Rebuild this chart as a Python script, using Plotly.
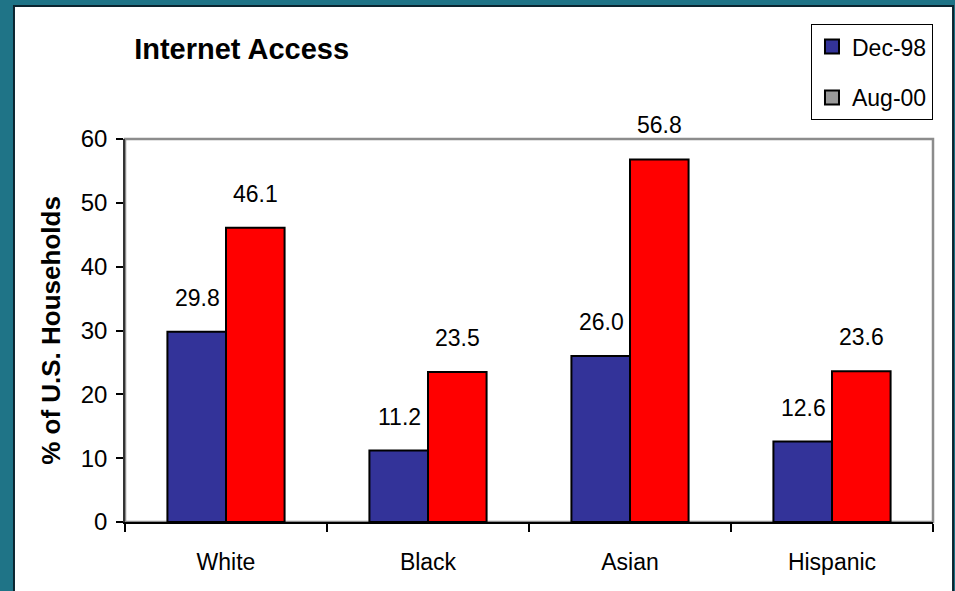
import plotly.graph_objects as go

categories = ["White", "Black", "Asian", "Hispanic"]
dec98 = [29.8, 11.2, 26.0, 12.6]
aug00 = [46.1, 23.5, 56.8, 23.6]
series_names = ["Dec-98", "Aug-00"]
y_ticks = [0, 10, 20, 30, 40, 50, 60]

FONT = "Liberation Sans, Arial, sans-serif"
BLUE = "#333399"
RED = "#FF0000"
GREY = "#999999"

fig = go.Figure()

fig.add_trace(go.Bar(x=categories, y=dec98, name=series_names[0], showlegend=False,
                     marker=dict(color=BLUE, line=dict(color="black", width=2))))
fig.add_trace(go.Bar(x=categories, y=aug00, name=series_names[1], showlegend=False,
                     marker=dict(color=RED, line=dict(color="black", width=2))))

# legend entries (Aug-00 shown grey in the original legend)
for nm, col in zip(series_names, [BLUE, GREY]):
    fig.add_trace(go.Scatter(x=[None], y=[None], mode="markers", name=nm,
                             legendgroup=nm,
                             marker=dict(symbol="square", size=14, color=col,
                                         line=dict(color="black", width=2))))

# data labels
for vals, shift in [(dec98, -29), (aug00, 29)]:
    for c, v in zip(categories, vals):
        fig.add_annotation(x=c, y=v, text=f"{v:.1f}", showarrow=False,
                           xshift=shift, yshift=34, yanchor="middle",
                           font=dict(family=FONT, size=23, color="black"))

# white panel and plot frame
fig.add_shape(type="rect", xref="paper", yref="paper",
              x0=-0.1374, x1=1.0248, y0=-0.25, y1=1.347,
              fillcolor="white", line=dict(color="#0b2530", width=2), layer="below")
fig.add_shape(type="rect", xref="x domain", yref="y domain",
              x0=0, x1=1, y0=0, y1=1,
              line=dict(color="#8c8c8c", width=2.5), layer="below")

fig.update_layout(
    width=955, height=591,
    margin=dict(l=125, r=22, t=139, b=69),
    paper_bgcolor="#1f7487",
    plot_bgcolor="white",
    barmode="group",
    bargap=0.42,
    bargroupgap=0,
    font=dict(family=FONT, size=23, color="black"),
    title=dict(text="<b>Internet Access</b>", x=0.253, xanchor="center",
               y=0.917, yanchor="middle",
               font=dict(family=FONT, size=29, color="black")),
    legend=dict(x=0.849, y=1.30, xanchor="left", yanchor="top",
                bgcolor="white", bordercolor="black", borderwidth=1,
                font=dict(family=FONT, size=23), tracegroupgap=18,
                itemwidth=30),
    xaxis=dict(type="category", tickson="boundaries", ticks="outside",
               ticklen=8, tickcolor="black", tickwidth=1.5,
               showline=True, linecolor="black", linewidth=1.5,
               showgrid=False, ticklabelstandoff=19,
               tickfont=dict(family=FONT, size=23)),
    yaxis=dict(range=[0, 60], tickvals=y_ticks, ticks="outside", ticklen=7,
               tickcolor="black", tickwidth=1.5,
               showline=True, linecolor="#333333", linewidth=1.5,
               showgrid=False, zeroline=False, ticklabelstandoff=4,
               tickfont=dict(family=FONT, size=24),
               title=dict(text="<b>% of U.S. Households</b>", standoff=13,
                          font=dict(family=FONT, size=26))),
)

fig.write_html("out.html", config={"displayModeBar": False},
               post_script="document.body.style.margin='0';document.body.style.overflow='hidden';")
